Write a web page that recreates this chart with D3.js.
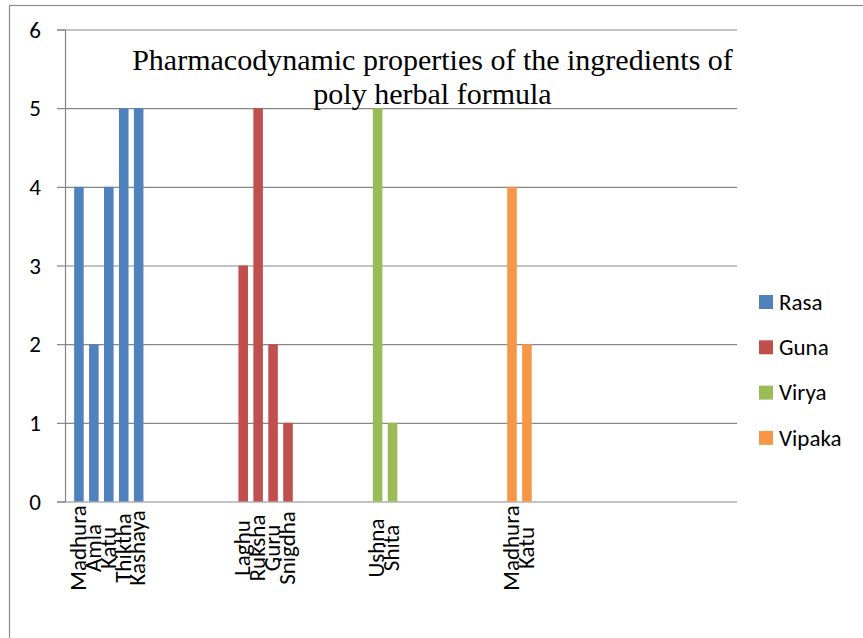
<!DOCTYPE html>
<html>
<head>
<meta charset="utf-8">
<script src="https://cdnjs.cloudflare.com/ajax/libs/d3/7.8.5/d3.min.js"></script>
<style>
  body { margin: 0; background: #fff; }
  .lbl { font-family: Carlito, Calibri, "Open Sans", sans-serif; font-size: 23px; fill: #000; }
  .title { font-family: "Liberation Serif", "Times New Roman", serif; font-size: 30px; fill: #000; }
</style>
</head>
<body>
<script>
// series and their items
var seriesNames = ["Rasa", "Guna", "Virya", "Vipaka"];
var seriesColors = ["#4F81BD", "#C0504D", "#9BBB59", "#F79646"];

var rasaNames = ["Madhura", "Amla", "Katu", "Thiktha", "Kashaya"];
var rasaValues = [4, 2, 4, 5, 5];
var gunaNames = ["Laghu", "Ruksha", "Guru", "Snigdha"];
var gunaValues = [3, 5, 2, 1];
var viryaNames = ["Ushna", "Shita"];
var viryaValues = [5, 1];
var vipakaNames = ["Madhura", "Katu"];
var vipakaValues = [4, 2];

// blank rows in the sheet before / between / after the groups
var blankRows = [1, 6, 5, 7, 13];
var yTicks = [0, 1, 2, 3, 4, 5, 6];

// build the category rows (blank rows have no value)
var groups = [
  [rasaNames, rasaValues],
  [gunaNames, gunaValues],
  [viryaNames, viryaValues],
  [vipakaNames, vipakaValues]
];
var rows = [];
groups.forEach(function(g, s) {
  d3.range(blankRows[s]).forEach(function() { rows.push({name: "", series: -1, value: null}); });
  g[0].forEach(function(n, i) { rows.push({name: n, series: s, value: g[1][i]}); });
});
d3.range(blankRows[4]).forEach(function() { rows.push({name: "", series: -1, value: null}); });
rows.forEach(function(r, i) { r.idx = i; });

var width = 863, height = 638;
var plotLeft = 65, plotRight = 737, plotTop = 29.5, plotBottom = 501.5;
var step = (plotRight - plotLeft) / 45;

var svg = d3.select("body")
    .append("svg")
    .attr("width", width)
    .attr("height", height);

// outer chart border (runs past the right and bottom edges)
svg.append("rect")
    .attr("x", 9.5).attr("y", 5.5)
    .attr("width", 900).attr("height", 700)
    .attr("fill", "none")
    .attr("stroke", "#8a8a8a")
    .attr("stroke-width", 1.2);

var x = d3.scaleBand()
    .domain(rows.map(function(d) { return d.idx; }))
    .range([plotLeft - step / 2 - 1, plotLeft - step / 2 - 1 + rows.length * step])
    .paddingInner(0.36)
    .paddingOuter(0.18);

var y = d3.scaleLinear()
    .domain([0, 6])
    .range([plotBottom, plotTop]);

// gridlines
svg.append("g")
    .attr("transform", "translate(" + plotLeft + ",0)")
    .call(d3.axisLeft(y).tickValues(yTicks).tickSize(-(plotRight - plotLeft)).tickFormat(""))
    .call(function(g) { g.select(".domain").remove(); })
    .selectAll("line")
    .attr("stroke", "#878787")
    .attr("stroke-width", 1.2);

// y axis with short outside ticks
var yAxis = svg.append("g")
    .attr("transform", "translate(" + plotLeft + ",0)")
    .call(d3.axisLeft(y).tickValues(yTicks).tickSize(8).tickPadding(16).tickFormat(d3.format("d")));
yAxis.select(".domain").attr("stroke", "#878787").attr("stroke-width", 1.2);
yAxis.selectAll("line").attr("stroke", "#878787").attr("stroke-width", 1.2);
yAxis.selectAll("text")
    .attr("class", "lbl")
    .attr("dy", "0.34em");

// bars
svg.append("g")
  .selectAll("rect")
  .data(rows.filter(function(d) { return d.value !== null; }))
  .enter().append("rect")
    .attr("x", function(d) { return x(d.idx); })
    .attr("width", x.bandwidth())
    .attr("y", function(d) { return y(d.value); })
    .attr("height", function(d) { return y(0) - y(d.value); })
    .attr("fill", function(d) { return seriesColors[d.series]; });

// category labels, rotated
svg.append("g")
  .selectAll("text")
  .data(rows.filter(function(d) { return d.name !== ""; }))
  .enter().append("text")
    .attr("class", "lbl")
    .attr("text-anchor", "middle")
    .attr("transform", function(d) {
      return "translate(" + (x(d.idx) + x.bandwidth() / 2 - 1) + ",548) rotate(-90)";
    })
    .attr("dy", "0.34em")
    .text(function(d) { return d.name; });

// title
var title = svg.append("text")
    .attr("class", "title")
    .attr("text-anchor", "middle");
title.append("tspan").attr("x", 432.5).attr("y", 70)
    .text("Pharmacodynamic properties of the ingredients of");
title.append("tspan").attr("x", 432.5).attr("y", 103.5)
    .text("poly herbal formula");

// legend
var legend = svg.append("g")
  .selectAll("g")
  .data(seriesNames)
  .enter().append("g")
    .attr("transform", function(d, i) { return "translate(759," + (295 + i * 45.3) + ")"; });
legend.append("rect")
    .attr("width", 14).attr("height", 14)
    .attr("fill", function(d, i) { return seriesColors[i]; });
legend.append("text")
    .attr("class", "lbl")
    .attr("x", 20).attr("y", 7)
    .attr("dy", "0.34em")
    .text(function(d) { return d; });
</script>
</body>
</html>
